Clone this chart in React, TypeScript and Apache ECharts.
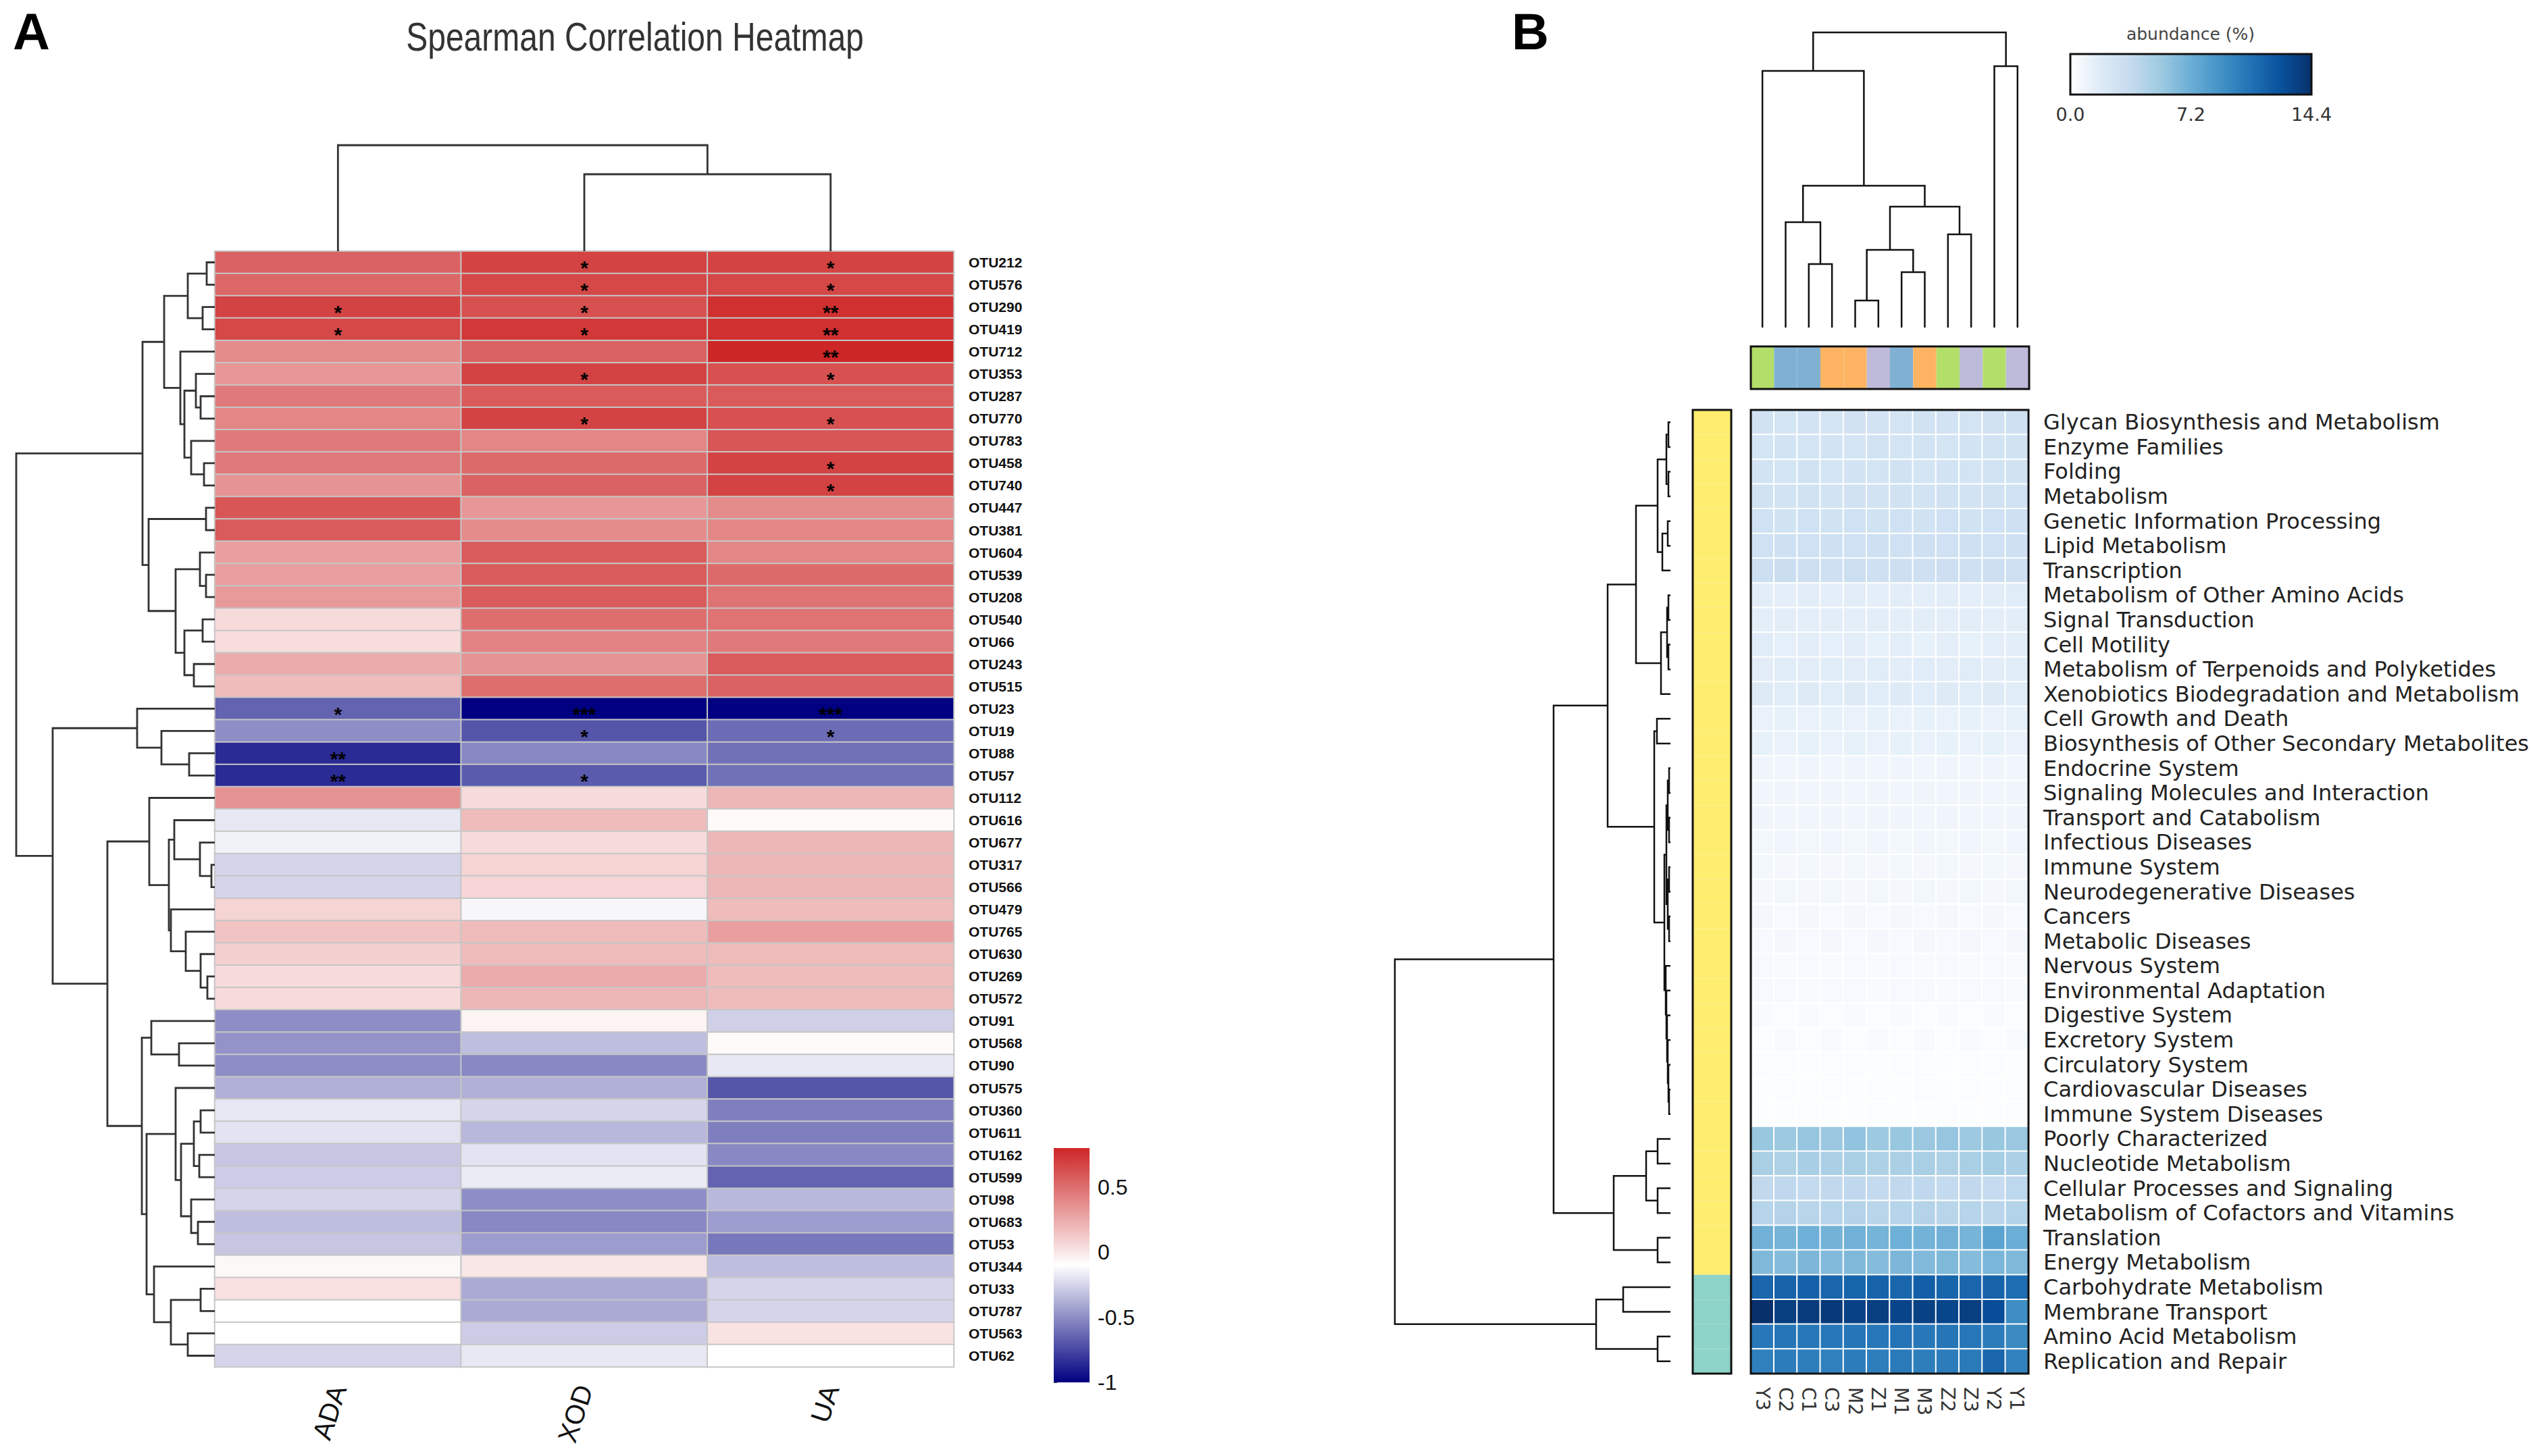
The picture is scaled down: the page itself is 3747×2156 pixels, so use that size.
import React, { useEffect, useRef } from "react";
import * as echarts from "echarts";

// ---------------- Panel A data ----------------
const otuLabels = [
  "OTU212", "OTU576", "OTU290", "OTU419", "OTU712", "OTU353", "OTU287", "OTU770", "OTU783", "OTU458",
  "OTU740", "OTU447", "OTU381", "OTU604", "OTU539", "OTU208", "OTU540", "OTU66", "OTU243", "OTU515",
  "OTU23", "OTU19", "OTU88", "OTU57", "OTU112", "OTU616", "OTU677", "OTU317", "OTU566", "OTU479",
  "OTU765", "OTU630", "OTU269", "OTU572", "OTU91", "OTU568", "OTU90", "OTU575", "OTU360", "OTU611",
  "OTU162", "OTU599", "OTU98", "OTU683", "OTU53", "OTU344", "OTU33", "OTU787", "OTU563", "OTU62",
];
const envFactors = ["ADA", "XOD", "UA"];
const adaValues = [
  0.55, 0.53, 0.68, 0.66, 0.38, 0.33, 0.45, 0.4, 0.45, 0.45,
  0.35, 0.6, 0.58, 0.3, 0.3, 0.32, 0.05, 0.04, 0.25, 0.18,
  -0.65, -0.5, -0.85, -0.85, 0.35, -0.18, -0.15, -0.25, -0.25, 0.08,
  0.15, 0.1, 0.05, 0.05, -0.5, -0.48, -0.5, -0.38, -0.18, -0.2,
  -0.3, -0.28, -0.25, -0.33, -0.3, -0.07, 0.03, -0.1, -0.1, -0.25,
];
const xodValues = [
  0.68, 0.66, 0.62, 0.72, 0.55, 0.68, 0.58, 0.68, 0.4, 0.52,
  0.55, 0.33, 0.38, 0.58, 0.58, 0.58, 0.5, 0.42, 0.35, 0.5,
  -1.0, -0.7, -0.52, -0.68, 0.05, 0.18, 0.05, 0.08, 0.07, -0.13,
  0.18, 0.18, 0.25, 0.2, -0.05, -0.33, -0.52, -0.38, -0.25, -0.35,
  -0.2, -0.17, -0.5, -0.52, -0.45, 0.0, -0.4, -0.4, -0.28, -0.18,
];
const uaValues = [
  0.68, 0.66, 0.76, 0.76, 0.8, 0.62, 0.58, 0.62, 0.6, 0.68,
  0.68, 0.38, 0.4, 0.4, 0.52, 0.48, 0.48, 0.45, 0.58, 0.55,
  -1.0, -0.62, -0.6, -0.6, 0.2, -0.08, 0.2, 0.2, 0.2, 0.18,
  0.3, 0.18, 0.18, 0.18, -0.27, -0.08, -0.18, -0.7, -0.55, -0.55,
  -0.52, -0.65, -0.35, -0.45, -0.58, -0.33, -0.25, -0.25, 0.02, -0.1,
];
// significance marks: row index -> stars
const adaStars: Record<number, string> = { 2: "*", 3: "*", 20: "*", 22: "**", 23: "**" };
const xodStars: Record<number, string> = { 0: "*", 1: "*", 2: "*", 3: "*", 5: "*", 7: "*", 20: "***", 21: "*", 23: "*" };
const uaStars: Record<number, string> = { 0: "*", 1: "*", 2: "**", 3: "**", 4: "**", 5: "*", 7: "*", 9: "*", 10: "*", 20: "***", 21: "*" };
const corrScale = [-1, 0.8];
const corrTicks = [-1, -0.5, 0, 0.5];

// Row clustering of panel A: [left, right, height]
const rowTreeA: any = [
  [
    [
      [[0, 1, 12], [2, 3, 18], 40],
      [4, [[5, [6, 7, 21], 28], [8, [9, 10, 16], 35], 45], 51],
      75,
    ],
    [[11, 12, 13], [[13, [14, 15, 13], 22], [[16, 17, 18], [18, 19, 31], 45], 58], 98],
    107,
  ],
  [
    [20, [21, [22, 23, 38], 79], 115],
    [
      [24, [[25, [26, [27, 28, 5], 22], 60], [29, [30, [31, [32, 33, 11], 21], 43], 65], 68], 97],
      [
        [34, [35, 36, 53], 94],
        [
          [37, [[[38, 39, 21], [40, 41, 23], 31], [42, [43, 44, 25], 35], 50], 58],
          [45, [[46, 47, 21], [48, 49, 40], 65], 90],
          101,
        ],
        108,
      ],
      159,
    ],
    240,
  ],
  294,
];
const colTreeA: any = [0, [1, 2, 114], 157];

// ---------------- Panel B data ----------------
const samples = ["Y3", "C2", "C1", "C3", "M2", "Z1", "M1", "M3", "Z2", "Z3", "Y2", "Y1"];
const sampleGroups = ["g1", "g2", "g2", "g3", "g3", "g4", "g2", "g3", "g1", "g4", "g1", "g4"];
const pathways = [
  "Glycan Biosynthesis and Metabolism", "Enzyme Families", "Folding", "Metabolism",
  "Genetic Information Processing", "Lipid Metabolism", "Transcription", "Metabolism of Other Amino Acids",
  "Signal Transduction", "Cell Motility", "Metabolism of Terpenoids and Polyketides",
  "Xenobiotics Biodegradation and Metabolism", "Cell Growth and Death",
  "Biosynthesis of Other Secondary Metabolites", "Endocrine System", "Signaling Molecules and Interaction",
  "Transport and Catabolism", "Infectious Diseases", "Immune System", "Neurodegenerative Diseases",
  "Cancers", "Metabolic Diseases", "Nervous System", "Environmental Adaptation", "Digestive System",
  "Excretory System", "Circulatory System", "Cardiovascular Diseases", "Immune System Diseases",
  "Poorly Characterized", "Nucleotide Metabolism", "Cellular Processes and Signaling",
  "Metabolism of Cofactors and Vitamins", "Translation", "Energy Metabolism", "Carbohydrate Metabolism",
  "Membrane Transport", "Amino Acid Metabolism", "Replication and Repair",
];
const pathwayClusters = [
  "c1", "c1", "c1", "c1", "c1", "c1", "c1", "c1", "c1", "c1", "c1", "c1", "c1",
  "c1", "c1", "c1", "c1", "c1", "c1", "c1", "c1", "c1", "c1", "c1", "c1", "c1",
  "c1", "c1", "c1", "c1", "c1", "c1", "c1", "c1", "c1", "c2", "c2", "c2", "c2",
];
const abundance = [
  [2.8, 2.6, 2.7, 2.6, 2.8, 2.7, 2.6, 2.8, 2.7, 2.6, 2.8, 3.0],
  [2.6, 2.7, 2.6, 2.7, 2.6, 2.7, 2.6, 2.7, 2.6, 2.7, 2.7, 2.8],
  [2.7, 2.6, 2.8, 2.6, 2.7, 2.6, 2.8, 2.6, 2.7, 2.6, 2.7, 2.8],
  [2.8, 2.7, 2.8, 2.7, 2.8, 2.7, 2.8, 2.7, 2.8, 2.7, 2.8, 2.9],
  [2.9, 2.8, 2.9, 2.8, 2.9, 2.8, 2.9, 2.8, 2.9, 2.8, 2.9, 3.0],
  [2.9, 3.0, 2.9, 3.0, 2.9, 3.0, 2.9, 3.0, 2.9, 3.0, 2.9, 3.0],
  [3.2, 3.3, 3.1, 3.0, 3.2, 3.0, 3.1, 3.0, 3.1, 3.0, 3.1, 3.0],
  [1.6, 1.5, 1.6, 1.5, 1.6, 1.5, 1.6, 1.5, 1.6, 1.5, 1.6, 1.7],
  [1.5, 1.6, 1.5, 1.6, 1.5, 1.6, 1.5, 1.6, 1.5, 1.6, 1.5, 1.6],
  [1.7, 1.4, 1.6, 1.4, 1.6, 1.3, 1.5, 1.3, 1.5, 1.3, 1.5, 1.6],
  [1.6, 1.7, 1.6, 1.7, 1.6, 1.7, 1.6, 1.7, 1.6, 1.7, 1.6, 1.7],
  [1.8, 1.7, 1.8, 1.7, 1.8, 1.7, 1.8, 1.7, 1.8, 1.7, 1.8, 1.7],
  [1.2, 1.3, 1.2, 1.3, 1.2, 1.3, 1.2, 1.3, 1.2, 1.3, 1.2, 1.3],
  [1.3, 1.2, 1.3, 1.2, 1.3, 1.2, 1.3, 1.2, 1.3, 1.2, 1.3, 1.2],
  [0.9, 0.8, 0.9, 0.8, 0.9, 0.8, 0.9, 0.8, 0.9, 0.8, 0.9, 0.8],
  [0.8, 0.9, 0.8, 0.9, 0.8, 0.9, 0.8, 0.9, 0.8, 0.9, 0.8, 0.9],
  [0.9, 0.8, 0.8, 0.9, 0.8, 0.9, 0.9, 0.8, 0.9, 0.8, 0.8, 0.9],
  [0.7, 0.8, 0.7, 0.8, 0.7, 0.8, 0.7, 0.8, 0.7, 0.8, 0.7, 0.8],
  [0.7, 0.6, 0.7, 0.6, 0.7, 0.6, 0.7, 0.6, 0.7, 0.6, 0.7, 0.6],
  [0.6, 0.7, 0.6, 0.7, 0.6, 0.7, 0.6, 0.7, 0.6, 0.7, 0.6, 0.7],
  [0.6, 0.5, 0.6, 0.5, 0.6, 0.5, 0.6, 0.5, 0.6, 0.5, 0.6, 0.5],
  [0.5, 0.6, 0.5, 0.6, 0.5, 0.6, 0.5, 0.6, 0.5, 0.6, 0.5, 0.6],
  [0.5, 0.4, 0.5, 0.4, 0.5, 0.4, 0.5, 0.4, 0.5, 0.4, 0.5, 0.4],
  [0.5, 0.5, 0.4, 0.5, 0.5, 0.4, 0.5, 0.5, 0.4, 0.5, 0.5, 0.4],
  [0.4, 0.3, 0.4, 0.3, 0.4, 0.3, 0.4, 0.3, 0.4, 0.3, 0.4, 0.3],
  [0.3, 0.4, 0.3, 0.4, 0.3, 0.4, 0.3, 0.4, 0.3, 0.4, 0.3, 0.4],
  [0.3, 0.3, 0.2, 0.3, 0.3, 0.2, 0.3, 0.3, 0.2, 0.3, 0.3, 0.2],
  [0.2, 0.3, 0.2, 0.3, 0.2, 0.3, 0.2, 0.3, 0.2, 0.3, 0.2, 0.3],
  [0.2, 0.2, 0.3, 0.2, 0.2, 0.3, 0.2, 0.2, 0.3, 0.2, 0.2, 0.3],
  [5.6, 5.4, 5.7, 5.5, 5.8, 5.4, 5.6, 5.5, 5.7, 5.4, 5.6, 5.5],
  [4.9, 4.7, 5.0, 4.8, 4.9, 4.7, 4.8, 4.9, 4.7, 4.9, 5.1, 4.8],
  [3.8, 3.9, 3.7, 3.8, 3.9, 3.7, 3.8, 3.9, 3.7, 3.8, 3.6, 4.0],
  [4.3, 4.4, 4.2, 4.3, 4.4, 4.2, 4.3, 4.4, 4.2, 4.3, 4.1, 4.5],
  [7.0, 6.8, 7.1, 6.9, 7.0, 6.8, 7.1, 6.9, 7.0, 6.8, 7.9, 7.2],
  [6.5, 6.3, 6.6, 6.4, 6.5, 6.3, 6.6, 6.4, 6.5, 6.3, 6.7, 6.5],
  [11.4, 11.6, 11.7, 11.4, 11.5, 11.6, 11.4, 11.8, 11.5, 11.4, 11.6, 11.0],
  [14.4, 13.6, 13.8, 13.9, 13.4, 13.6, 13.3, 13.5, 13.2, 13.6, 12.8, 9.2],
  [10.4, 10.6, 10.5, 10.4, 10.6, 10.5, 10.7, 10.4, 10.6, 10.5, 10.2, 9.4],
  [10.0, 10.2, 10.1, 10.0, 10.2, 10.1, 10.3, 10.1, 10.2, 10.3, 11.4, 9.9],
];
const abundanceScale = [0, 14.4];

const rowTreeB: any = [
  [
    [
      [
        [[[0, 1, 3], [2, 3, 3], 6], [[4, 5, 4], 6, 12], 19],
        [[[7, 8, 3], [9, 10, 3], 5], 11, 14],
        51,
      ],
      [
        [12, 13, 20],
        [
          [[[14, 15, 2], [16, 17, 2], 4], [[18, 19, 2], [20, 21, 2], 4], 6],
          [22, [23, [24, [25, [26, [27, 28, 2], 3], 4], 5], 6], 7],
          9,
        ],
        24,
      ],
      93,
    ],
    [[[29, 30, 19], [31, 32, 19], 36], [33, 34, 19], 84],
    173,
  ],
  [[35, 36, 70], [37, 38, 19], 110],
  408,
];
const colTreeB: any = [
  [0, [[1, [2, 3, 94], 156], [[[4, 5, 40], [6, 7, 82], 115], [8, 9, 138], 179], 210], 380],
  [10, 11, 387],
  437,
];

// ---------------- styling ----------------
const groupColors: Record<string, string> = { g1: "#B3DE69", g2: "#80B1D3", g3: "#FDB462", g4: "#BEBADA" };
const clusterColors: Record<string, string> = { c1: "#FFED6F", c2: "#8DD3C7" };
const corrColors = ["#000080", "#ffffff", "#CD2626"];
const bluesColors = ["#ffffff", "#deebf7", "#c6dbef", "#9ecae1", "#6baed6", "#4292c6", "#2171b5", "#08519c", "#08306b"];
const ARIAL = "'Liberation Sans', Arial, sans-serif";
const DEJAVU = "'DejaVu Sans', Verdana, sans-serif";

function dendroLinks(tree: any): number[][] {
  const links: number[][] = [];
  const walk = (n: any): { pos: number; h: number } => {
    if (typeof n === "number") return { pos: n, h: 0 };
    const a = walk(n[0]);
    const b = walk(n[1]);
    links.push([a.h, a.pos, n[2], b.h, b.pos]);
    return { pos: (a.pos + b.pos) / 2, h: n[2] };
  };
  walk(tree);
  return links;
}

function dendroSeries(tree: any, axisIndex: number, horizontal: boolean, color: string, width: number) {
  return {
    type: "custom",
    xAxisIndex: axisIndex,
    yAxisIndex: axisIndex,
    clip: false,
    silent: true,
    data: dendroLinks(tree),
    renderItem: (_p: any, api: any) => {
      const h1 = api.value(0), p1 = api.value(1), hn = api.value(2), h2 = api.value(3), p2 = api.value(4);
      const pt = (h: number, p: number) => (horizontal ? api.coord([h, p]) : api.coord([p, h]));
      return {
        type: "polyline",
        shape: { points: [pt(h1, p1), pt(hn, p1), pt(hn, p2), pt(h2, p2)] },
        style: { stroke: color, lineWidth: width, fill: null },
      };
    },
  };
}

const hidden = { show: false };
function hiddenValueAxis(gridIndex: number, min: number, max: number, inverse = false) {
  return { type: "value", gridIndex, min, max, inverse, show: false, splitLine: hidden };
}

export default function App() {
  const ref = useRef<HTMLDivElement>(null);
  useEffect(() => {
    if (!ref.current) return;
    const chart = echarts.init(ref.current, undefined, { renderer: "svg" });

    const corrRows = [adaValues, xodValues, uaValues];
    const starRows = [adaStars, xodStars, uaStars];
    const heatA: any[] = [];
    otuLabels.forEach((_, r) => {
      corrRows.forEach((vals, c) => heatA.push([c, r, vals[r]]));
    });
    const heatB: any[] = [];
    abundance.forEach((row, r) => row.forEach((v, c) => heatB.push([c, r, v])));

    const option: any = {
      animation: false,
      backgroundColor: "#ffffff",
      graphic: [
        { type: "text", x: 19, y: 46, style: { text: "A", fontSize: 76, fontWeight: "bold", fontFamily: ARIAL, fill: "#000", textAlign: "left", textVerticalAlign: "middle", align: "left", verticalAlign: "middle" } },
        { type: "text", x: 2238, y: 46, style: { text: "B", fontSize: 76, fontWeight: "bold", fontFamily: ARIAL, fill: "#000", textAlign: "left", textVerticalAlign: "middle", align: "left", verticalAlign: "middle" } },
        { type: "text", x: 940, y: 55, scaleX: 0.8, style: { text: "Spearman Correlation Heatmap", fontSize: 60, fontFamily: ARIAL, fill: "#333", textAlign: "center", textVerticalAlign: "middle", align: "center", verticalAlign: "middle" } },
        { type: "text", x: 3243, y: 50, style: { text: "abundance (%)", fontSize: 25, fontFamily: DEJAVU, fill: "#444", textAlign: "center", textVerticalAlign: "middle", align: "center", verticalAlign: "middle" } },
      ],
      grid: [
        { left: 318, top: 372, width: 1094, height: 1652 }, // 0 heatmap A
        { left: 24, top: 372, width: 294, height: 1652 }, // 1 row dendro A
        { left: 318, top: 215, width: 1094, height: 157 }, // 2 col dendro A
        { left: 1560, top: 1700, width: 53, height: 347 }, // 3 colorbar A
        { left: 2592, top: 607, width: 412, height: 1427, show: true, z: 10, borderColor: "#111", borderWidth: 3, backgroundColor: "transparent" }, // 4 heatmap B
        { left: 2065, top: 607, width: 408, height: 1427 }, // 5 row dendro B
        { left: 2592, top: 48, width: 412, height: 437 }, // 6 col dendro B
        { left: 3065, top: 80, width: 357, height: 60, show: true, z: 10, borderColor: "#111", borderWidth: 3, backgroundColor: "transparent" }, // 7 colorbar B
        { left: 2592, top: 513, width: 412, height: 63, show: true, z: 10, borderColor: "#111", borderWidth: 3, backgroundColor: "transparent" }, // 8 sample groups
        { left: 2506, top: 607, width: 57, height: 1427, show: true, z: 10, borderColor: "#111", borderWidth: 3, backgroundColor: "transparent" }, // 9 pathway clusters
      ],
      xAxis: [
        {
          type: "category", gridIndex: 0, data: envFactors, position: "bottom",
          axisLine: hidden, axisTick: hidden, splitLine: hidden,
          axisLabel: { rotate: 72, fontSize: 40, margin: 28, color: "#111", fontFamily: ARIAL, interval: 0 },
        },
        hiddenValueAxis(1, 0, 294, true),
        hiddenValueAxis(2, -0.5, 2.5),
        hiddenValueAxis(3, 0, 1),
        {
          type: "category", gridIndex: 4, data: samples, position: "bottom",
          axisLine: hidden, axisTick: hidden, splitLine: hidden,
          axisLabel: { rotate: -90, fontSize: 28, margin: 20, color: "#333", fontFamily: DEJAVU, interval: 0 },
        },
        hiddenValueAxis(5, 0, 408, true),
        hiddenValueAxis(6, -0.5, 11.5),
        {
          type: "value", gridIndex: 7, min: abundanceScale[0], max: abundanceScale[1], interval: 7.2, position: "bottom",
          axisLine: hidden, splitLine: hidden,
          axisTick: { show: true, inside: true, length: 19, lineStyle: { color: "#111", width: 2 } },
          axisLabel: { fontSize: 27, margin: 16, color: "#333", fontFamily: DEJAVU, formatter: (v: number) => v.toFixed(1) },
        },
        { type: "category", gridIndex: 8, data: samples, show: false },
        hiddenValueAxis(9, 0, 1),
      ],
      yAxis: [
        {
          type: "category", gridIndex: 0, data: otuLabels, inverse: true, position: "right",
          axisLine: hidden, axisTick: hidden, splitLine: hidden,
          axisLabel: { fontSize: 21, fontWeight: "bold", margin: 22, color: "#111", fontFamily: ARIAL, interval: 0 },
        },
        hiddenValueAxis(1, -0.5, 49.5, true),
        hiddenValueAxis(2, 0, 157),
        {
          type: "value", gridIndex: 3, min: corrScale[0], max: corrScale[1], interval: 0.5, position: "right",
          axisLine: hidden, splitLine: hidden,
          axisTick: { show: true, length: 5, lineStyle: { color: "#555", width: 2 } },
          axisLabel: { fontSize: 32, margin: 12, color: "#111", fontFamily: ARIAL, showMaxLabel: false,
            formatter: (v: number) => (corrTicks.indexOf(v) >= 0 ? String(v) : "") },
        },
        {
          type: "category", gridIndex: 4, data: pathways, inverse: true, position: "right",
          axisLine: hidden, axisTick: hidden, splitLine: hidden,
          axisLabel: { fontSize: 32, margin: 22, color: "#222", fontFamily: DEJAVU, interval: 0 },
        },
        hiddenValueAxis(5, -0.5, 38.5, true),
        hiddenValueAxis(6, 0, 437),
        hiddenValueAxis(7, 0, 1),
        hiddenValueAxis(8, 0, 1),
        { type: "category", gridIndex: 9, data: pathways, inverse: true, show: false },
      ],
      visualMap: [
        { type: "continuous", show: false, seriesIndex: 0, min: corrScale[0], max: corrScale[1], inRange: { color: corrColors } },
        { type: "continuous", show: false, seriesIndex: 4, min: abundanceScale[0], max: abundanceScale[1], inRange: { color: bluesColors } },
      ],
      series: [
        {
          type: "heatmap", xAxisIndex: 0, yAxisIndex: 0, data: heatA, silent: true,
          itemStyle: { borderColor: "#c6c6c6", borderWidth: 2 },
          emphasis: { disabled: true },
          label: {
            show: true, fontSize: 30, fontWeight: "bold", color: "#000", offset: [0, 8],
            formatter: (p: any) => starRows[p.data[0]][p.data[1]] || "",
          },
        },
        dendroSeries(rowTreeA, 1, true, "#333", 2.8),
        dendroSeries(colTreeA, 2, false, "#333", 2.8),
        {
          type: "custom", xAxisIndex: 3, yAxisIndex: 3, silent: true, clip: false, data: [[0]],
          renderItem: (_p: any, api: any) => {
            const tl = api.coord([0, corrScale[1]]);
            const br = api.coord([1, corrScale[0]]);
            return {
              type: "rect",
              shape: { x: tl[0], y: tl[1], width: br[0] - tl[0], height: br[1] - tl[1] },
              style: {
                fill: new echarts.graphic.LinearGradient(0, 0, 0, 1, [
                  { offset: 0, color: corrColors[2] },
                  { offset: 0.5, color: corrColors[1] },
                  { offset: 1, color: corrColors[0] },
                ]),
              },
            };
          },
        },
        {
          type: "heatmap", xAxisIndex: 4, yAxisIndex: 4, data: heatB, silent: true,
          itemStyle: { borderColor: "#ffffff", borderWidth: 2 },
          emphasis: { disabled: true },
        },
        dendroSeries(rowTreeB, 5, true, "#111", 2.5),
        dendroSeries(colTreeB, 6, false, "#111", 2.5),
        {
          type: "custom", xAxisIndex: 7, yAxisIndex: 7, silent: true, clip: false, data: [[0]],
          renderItem: (_p: any, api: any) => {
            const tl = api.coord([abundanceScale[0], 1]);
            const br = api.coord([abundanceScale[1], 0]);
            return {
              type: "rect",
              shape: { x: tl[0], y: tl[1], width: br[0] - tl[0], height: br[1] - tl[1] },
              style: {
                fill: new echarts.graphic.LinearGradient(0, 0, 1, 0,
                  bluesColors.map((c, i) => ({ offset: i / (bluesColors.length - 1), color: c }))),
              },
            };
          },
        },
        {
          type: "bar", xAxisIndex: 8, yAxisIndex: 8, silent: true, barCategoryGap: "0%",
          data: sampleGroups.map((g) => ({ value: 1, itemStyle: { color: groupColors[g] } })),
        },
        {
          type: "bar", xAxisIndex: 9, yAxisIndex: 9, silent: true, barCategoryGap: "0%",
          data: pathwayClusters.map((c) => ({ value: 1, itemStyle: { color: clusterColors[c] } })),
        },
      ],
    };
    chart.setOption(option);
    return () => chart.dispose();
  }, []);
  return <div ref={ref} style={{ position: "absolute", left: 0, top: 0, width: 3747, height: 2156 }} />;
}
